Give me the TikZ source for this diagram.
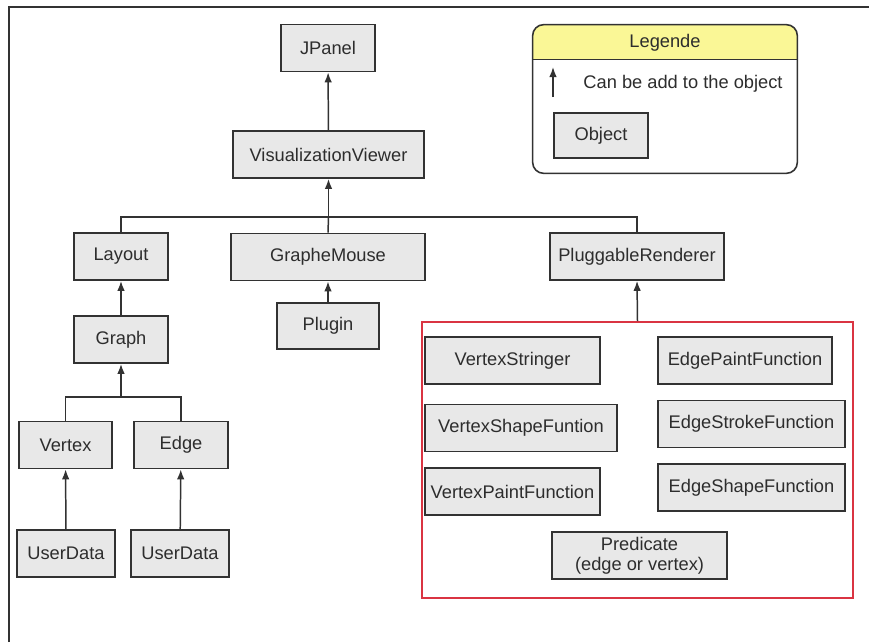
\documentclass[tikz,border=0pt]{standalone}
\usepackage{fontspec}
\setmainfont{Liberation Sans}
\usetikzlibrary{arrows.meta, calc, positioning}

\definecolor{boxfill}{RGB}{232,232,232}
\definecolor{boxline}{RGB}{50,50,50}
\definecolor{textgray}{RGB}{45,45,45}
\definecolor{groupred}{RGB}{218,52,66}
\definecolor{headyellow}{RGB}{250,247,150}

\begin{document}
\begin{tikzpicture}[
    font=\fontsize{10.4}{12}\selectfont,
    cls/.style={
        draw=boxline, line width=0.95pt, fill=boxfill,
        minimum width=1.88cm, minimum height=0.94cm,
        inner sep=1pt, align=center, text=textgray
    },
    group/.style={
        draw=groupred, line width=0.9pt,
        minimum width=8.62cm, minimum height=5.52cm
    },
    wire/.style={
        draw=boxline, line width=0.85pt
    },
    feed/.style={
        -{Latex[length=2mm,width=1.5mm]}, draw=boxline, line width=0.85pt
    }
]
\useasboundingbox (0,0) rectangle (17.38,-12.84);
\fill[white] (0,0) rectangle (17.38,-12.84);

% page frame
\draw[boxline, line width=0.8pt] (0.18,-12.84) -- (0.18,-0.14) -- (17.38,-0.14);

% top of the hierarchy
\node[cls] (jpanel) at (6.56,-0.96) {JPanel};
\node[cls, minimum width=3.82cm] (viewer) at (6.57,-3.09) {VisualizationViewer};

\node[cls] (layout) at (2.42,-5.13) {Layout};
\node[cls, minimum width=3.88cm] (mouse) at (6.56,-5.14) {GrapheMouse};
\node[cls, minimum width=3.48cm] (renderer) at (12.74,-5.13) {PluggableRenderer};

\node[cls, minimum width=2.04cm, minimum height=0.92cm] (plugin) at (6.56,-6.52) {Plugin};
\node[cls] (graph) at (2.42,-6.79) {Graph};

\node[cls, minimum width=1.86cm] (vertex) at (1.31,-8.9) {Vertex};
\node[cls] (edge) at (3.62,-8.9) {Edge};
\node[cls, minimum width=1.96cm] (vdata) at (1.32,-11.07) {UserData};
\node[cls, minimum width=1.96cm] (edata) at (3.6,-11.07) {UserData};

% renderer functions
\node[group] (funcs) at (12.75,-9.2) {};
\node[cls, minimum width=3.5cm] (vstring) at (10.25,-7.21) {VertexStringer};
\node[cls, minimum width=3.84cm] (vshape) at (10.42,-8.56) {VertexShapeFuntion};
\node[cls, minimum width=3.5cm] (vpaint) at (10.25,-9.83) {VertexPaintFunction};
\node[cls, minimum width=3.48cm] (epaint) at (14.9,-7.21) {EdgePaintFunction};
\node[cls, minimum width=3.74cm] (estroke) at (15.03,-8.48) {EdgeStrokeFunction};
\node[cls, minimum width=3.74cm] (eshape) at (15.03,-9.75) {EdgeShapeFunction};
\node[cls, minimum width=3.5cm, font=\fontsize{10.4}{11.5}\selectfont] (pred) at (12.79,-11.11)
    {Predicate\\(edge or vertex)};

% connectors
\coordinate (topbus) at (6.57,-4.34);
\coordinate (lowbus) at (2.42,-7.94);

\draw[feed] (viewer) -- (jpanel);
\draw[wire] (layout.north) -- (layout.north |- topbus)
    -- (renderer.north |- topbus) -- (renderer.north);
\draw[wire] (mouse.north) -- (topbus);
\draw[feed] (topbus) -- (viewer.south);
\draw[feed] (plugin) -- (mouse);
\draw[feed] (graph) -- (layout);
\draw[wire] (vertex.north) -- (vertex.north |- lowbus)
    -- (edge.north |- lowbus) -- (edge.north);
\draw[feed] (lowbus) -- (graph.south);
\draw[feed] (vdata) -- (vertex);
\draw[feed] (edata) -- (edge);
\draw[feed] (funcs.north) -- (renderer.south);

% legend
\node[minimum width=5.28cm, minimum height=2.96cm, inner sep=0pt] (legend) at (13.3,-1.98) {};
\begin{scope}
\clip[rounded corners=0.22cm] (legend.south west) rectangle (legend.north east);
\fill[headyellow] (legend.north west) rectangle ($(legend.north east)+(0,-0.7)$);
\end{scope}
\draw[boxline, line width=0.9pt, rounded corners=0.22cm]
    (legend.south west) rectangle (legend.north east);
\draw[boxline, line width=0.9pt]
    ($(legend.north west)+(0,-0.7)$) -- ($(legend.north east)+(0,-0.7)$);
\node[text=textgray] (legtitle) at (13.3,-0.85) {Legende};

\coordinate (arrlow) at (11.06,-1.94);
\coordinate (arrhigh) at (11.06,-1.34);
\draw[feed] (arrlow) -- (arrhigh);
\node[text=textgray] (legarrow) at (13.66,-1.68) {Can be add to the object};
\node[cls, minimum height=0.9cm] (legobject) at (12.02,-2.71) {Object};
\end{tikzpicture}
\end{document}
